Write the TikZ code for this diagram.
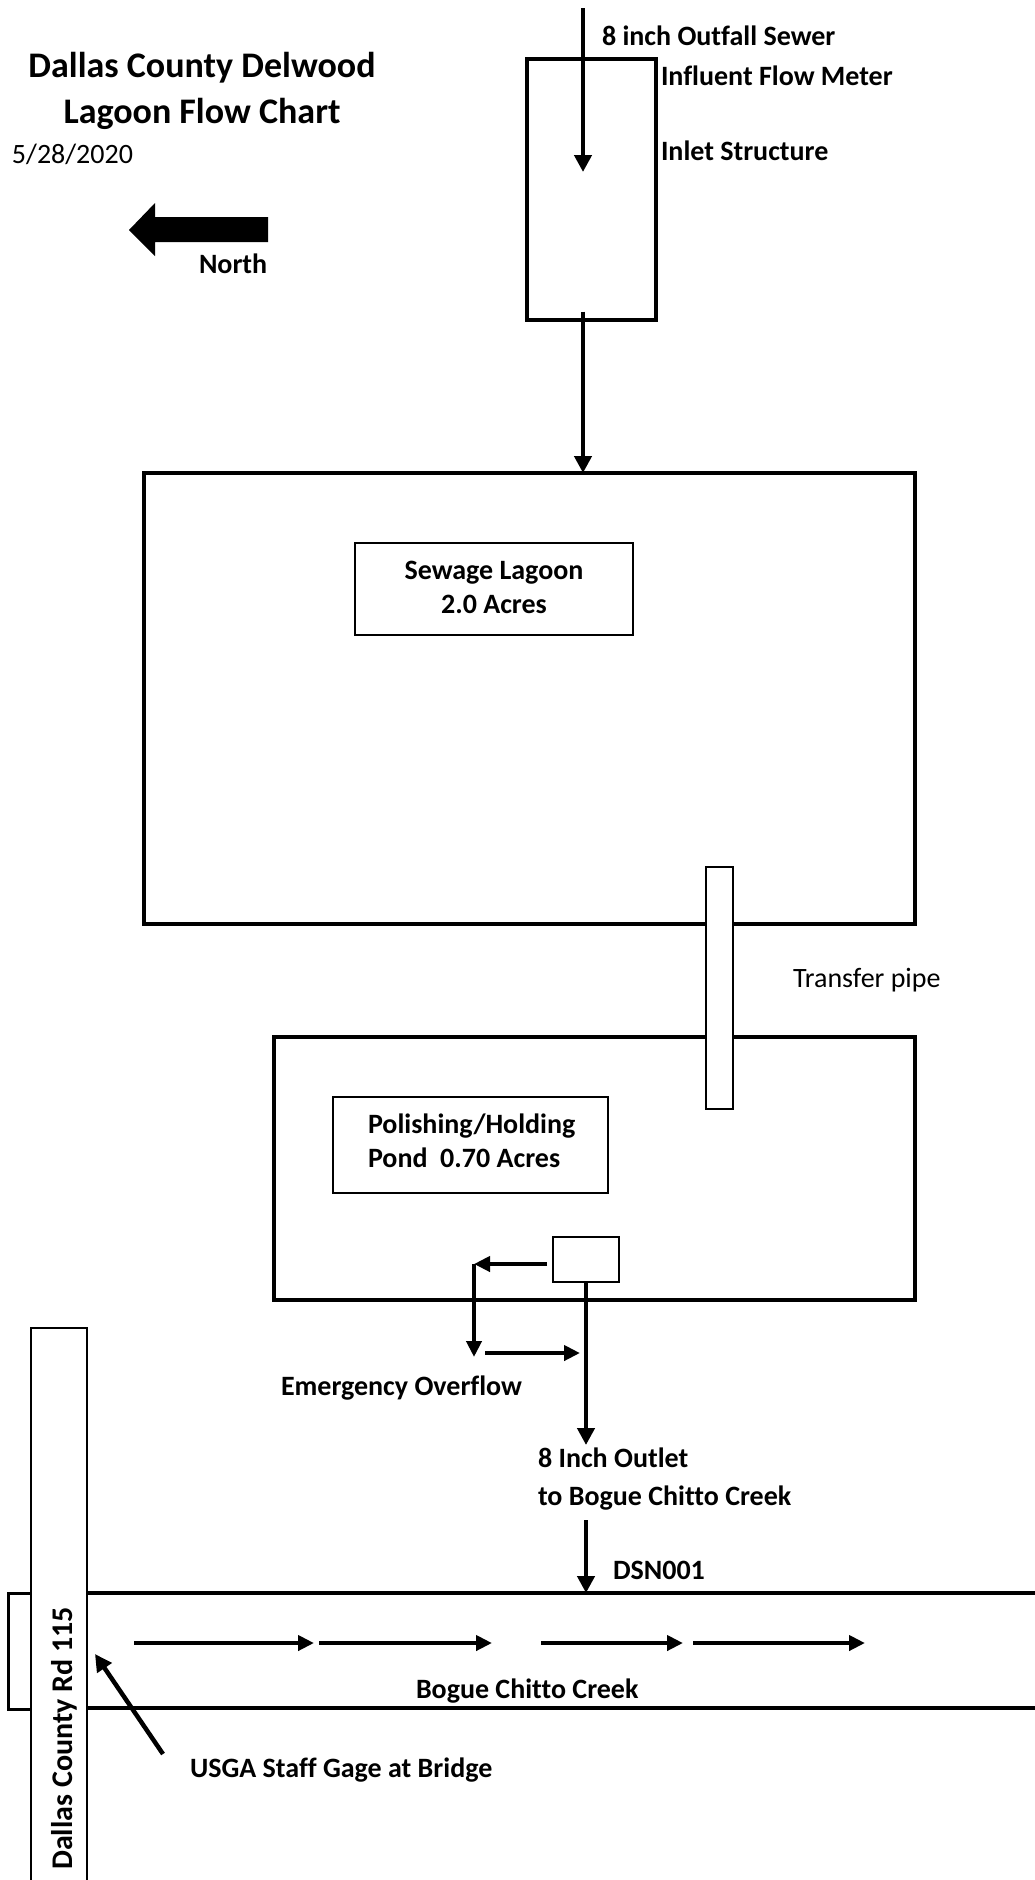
\documentclass[tikz,border=0pt]{standalone}
\usepackage{fontspec}
\setmainfont{Carlito}[Ligatures={NoCommon}]
\usetikzlibrary{arrows.meta}
\begin{document}
\begin{tikzpicture}[x=1pt,y=-1pt,
  heavybox/.style={draw, line width=4pt, inner sep=0pt, outer sep=0pt},
  thinbox/.style={draw, line width=1.8pt, inner sep=0pt, outer sep=0pt},
  pipebox/.style={draw, fill=white, line width=2pt, inner sep=0pt, outer sep=0pt},
  arr/.style={line width=4.5pt, -{Triangle[length=17pt,width=17pt]}},
  carr/.style={line width=4pt, -{Triangle[length=16pt,width=15pt]}},
  lbl/.style={font=\bfseries\fontsize{28}{34}\selectfont, inner sep=0pt, outer sep=0pt},
  rlbl/.style={font=\fontsize{28}{34}\selectfont, inner sep=0pt, outer sep=0pt},
  ttl/.style={font=\bfseries\fontsize{36}{46}\selectfont, inner sep=0pt, outer sep=0pt}]
\useasboundingbox (0,0) rectangle (1035,1880);

% title
\node[ttl, anchor=base] (t1) at (202,77) {Dallas County Delwood};
\node[ttl, anchor=base] (t2) at (202,123) {Lagoon Flow Chart};
\node[rlbl, anchor=base west] (date) at (12,163) {5/28/2020};

% north arrow
\fill (129,230) -- (155,203) -- (155,217) -- (268,217) -- (268,242) -- (155,242) -- (155,256) -- cycle;
\node[lbl, anchor=base west] (north) at (199,273) {North};

% ponds
\node[heavybox, minimum width=771pt, minimum height=451pt] (lagoon) at (529.5,698.5) {};
\node[heavybox, minimum width=641pt, minimum height=263pt] (pond) at (594.5,1168.5) {};
\node[pipebox, minimum width=27pt, minimum height=242pt] (pipe) at (719.5,988) {};
\node[rlbl, anchor=base west] (pipelbl) at (793,987) {Transfer pipe};

\node[thinbox, minimum width=278pt, minimum height=92pt] (lagbox) at (494,589) {};
\node[lbl, anchor=base] (lag1) at (494,579) {Sewage Lagoon};
\node[lbl, anchor=base] (lag2) at (494,613) {2.0 Acres};

\node[thinbox, minimum width=275pt, minimum height=96pt] (pondbox) at (470.5,1145) {};
\node[lbl, anchor=base west] (pond1) at (368,1133) {Polishing/Holding};
\node[lbl, anchor=base west] (pond2) at (368,1167) {Pond\ \ 0.70 Acres};

% inlet
\node[heavybox, minimum width=129pt, minimum height=261pt] (inlet) at (591.5,189) {};
\node[lbl, anchor=base west] (sewerlbl) at (602,45) {8 inch Outfall Sewer};
\node[lbl, anchor=base west] (meterlbl) at (661,85) {Influent Flow Meter};
\node[lbl, anchor=base west] (inletlbl) at (661,160) {Inlet Structure};
\coordinate (sewer) at (583,8);
\coordinate (inlettip) at (583,172);
\draw[arr] (sewer) -- (inlettip);
\draw[arr] ([yshift=8pt]inlet.south -| sewer) -- (lagoon.north -| sewer);

% outlet structure
\node[draw, line width=2pt, fill=white, inner sep=0pt, outer sep=0pt, minimum width=66pt, minimum height=45pt] (outbox) at (586,1259.5) {};
\coordinate (ovc) at (474,1264);
\coordinate (ovd) at (474,1357);
\coordinate (ove1) at (485,1353);
\coordinate (ove2) at (580,1353);
\draw[carr] ([xshift=-6pt]outbox.west |- ovc) -- (ovc);
\draw[carr] (ovc) -- (ovd);
\draw[carr] (ove1) -- (ove2);
\node[lbl, anchor=base west] (emlbl) at (281,1395) {Emergency Overflow};
\coordinate (outtip) at (586,1445);
\draw[arr] (outbox.south) -- (outtip);
\node[lbl, anchor=base west] (out1) at (538,1467) {8 Inch Outlet};
\node[lbl, anchor=base west] (out2) at (538,1505) {to Bogue Chitto Creek};

% creek
\coordinate (ctl) at (87,1593);
\coordinate (ctr) at (1045,1593);
\coordinate (cbl) at (87,1708);
\coordinate (cbr) at (1045,1708);
\draw[line width=4pt] (ctl) -- (ctr);
\draw[line width=4pt] (cbl) -- (cbr);
\node[draw, line width=3pt, inner sep=0pt, outer sep=0pt, minimum width=25pt, minimum height=116pt] (bridge) at (20.5,1651) {};
\node[draw, fill=white, line width=2.5pt, inner sep=0pt, outer sep=0pt, minimum width=56pt, minimum height=580pt] (road) at (59,1618) {};
\node[font=\bfseries\fontsize{30}{36}\selectfont, inner sep=0pt, rotate=90, anchor=base west] (roadlbl) at (72,1870) {Dallas County Rd 115};

\coordinate (dsn1) at (586,1520);
\draw[arr] (dsn1) -- (dsn1 |- ctl);
\node[lbl, anchor=base west] (dsn) at (613,1579) {DSN001};

\coordinate (f1a) at (134,1643); \coordinate (f1b) at (314,1643);
\coordinate (f2a) at (319,1643); \coordinate (f2b) at (492,1643);
\coordinate (f3a) at (541,1643); \coordinate (f3b) at (683,1643);
\coordinate (f4a) at (693,1643); \coordinate (f4b) at (865,1643);
\draw[carr] (f1a) -- (f1b);
\draw[carr] (f2a) -- (f2b);
\draw[carr] (f3a) -- (f3b);
\draw[carr] (f4a) -- (f4b);
\node[lbl, anchor=base west] (creeklbl) at (416,1698) {Bogue Chitto Creek};

\coordinate (gs) at (163,1754);
\coordinate (gt) at (95,1654);
\draw[arr] (gs) -- (gt);
\node[lbl, anchor=base west] (gagelbl) at (190,1777) {USGA Staff Gage at Bridge};
\end{tikzpicture}
\end{document}
